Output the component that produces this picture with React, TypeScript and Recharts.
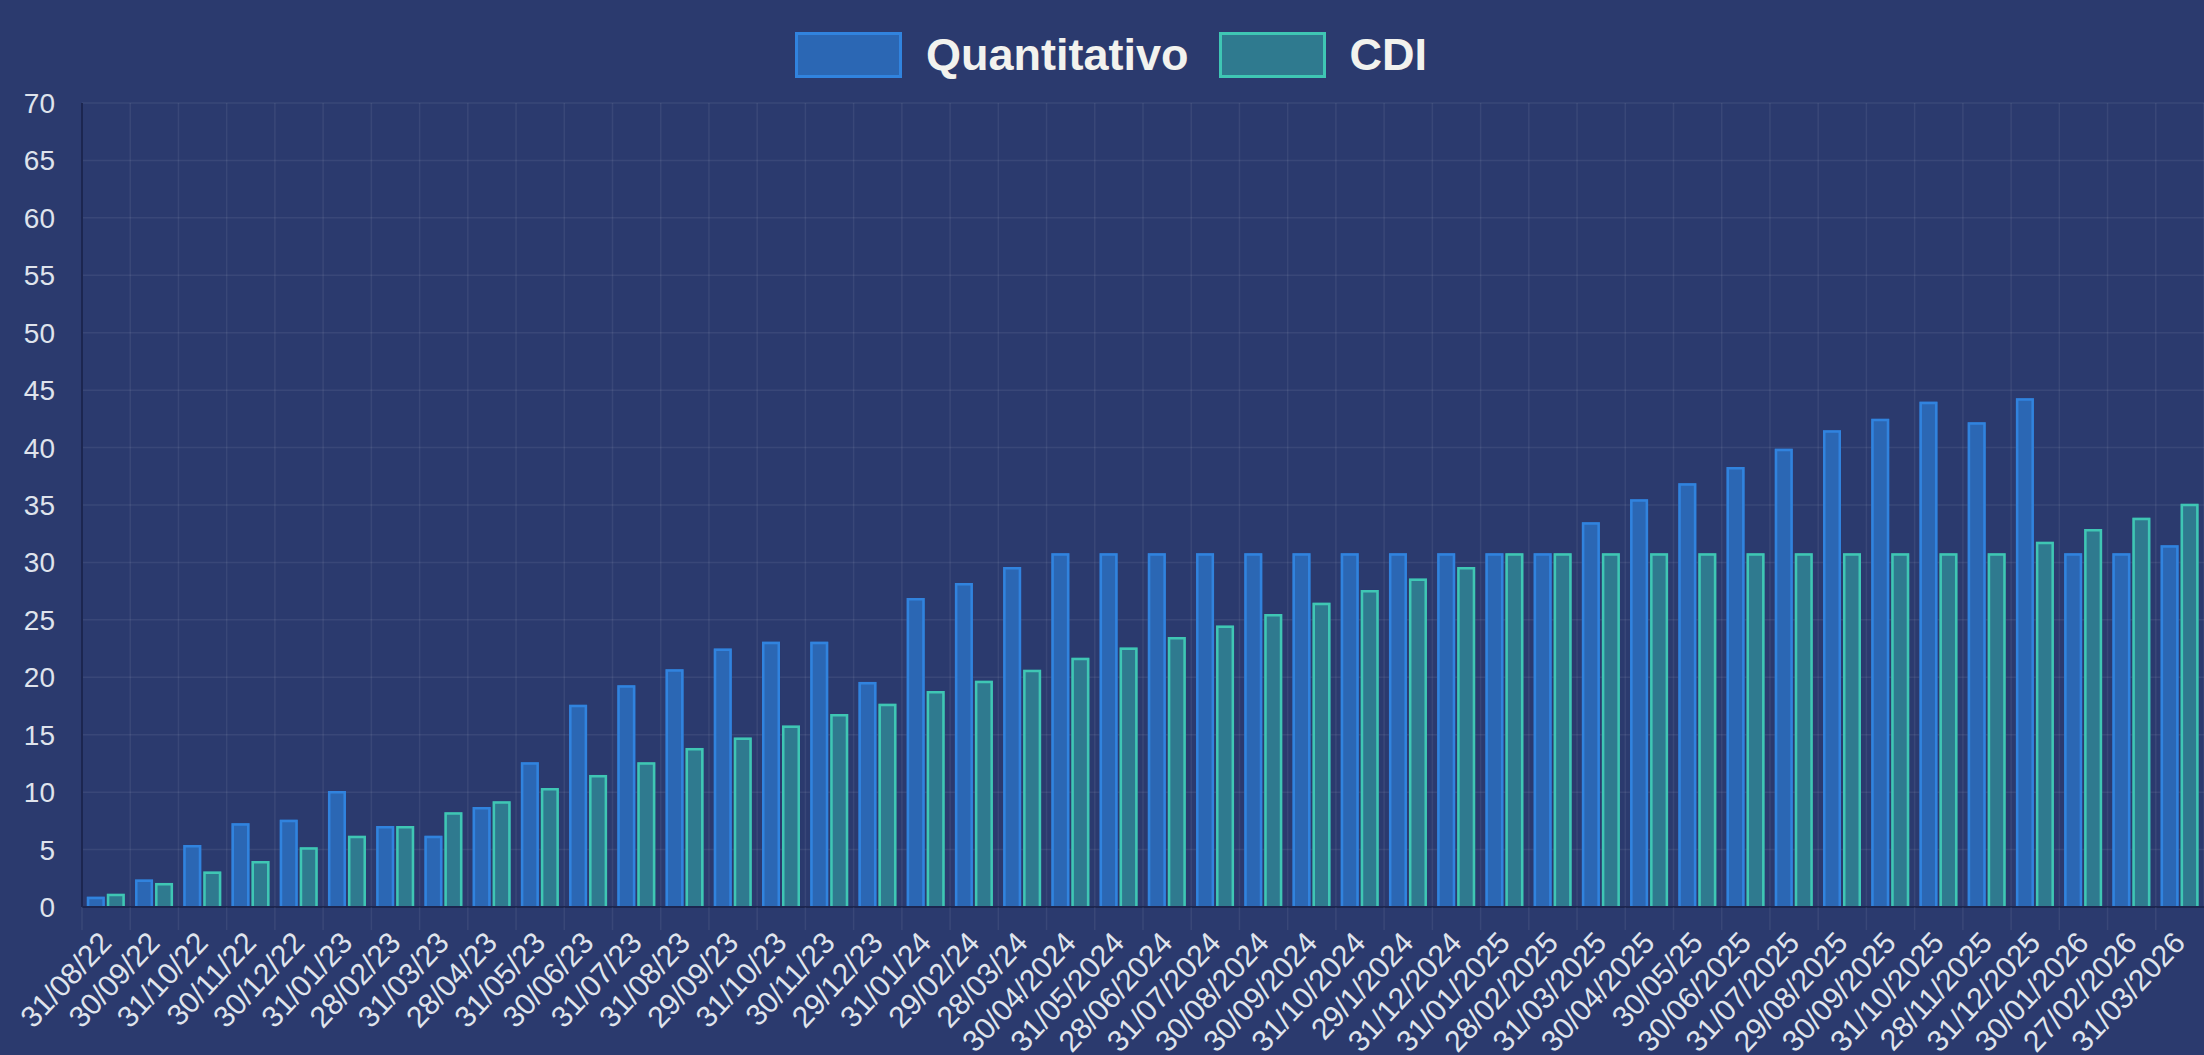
import { BarChart, Bar, XAxis, YAxis, CartesianGrid, Legend } from "recharts";

const W = 2204;
const H = 1055;

// month-end dates as shown on the x axis
const dates = [
  "31/08/22", "30/09/22", "31/10/22", "30/11/22", "30/12/22",
  "31/01/23", "28/02/23", "31/03/23", "28/04/23", "31/05/23", "30/06/23",
  "31/07/23", "31/08/23", "29/09/23", "31/10/23", "30/11/23", "29/12/23",
  "31/01/24", "29/02/24", "28/03/24", "30/04/2024", "31/05/2024", "28/06/2024",
  "31/07/2024", "30/08/2024", "30/09/2024", "31/10/2024", "29/1/2024", "31/12/2024",
  "31/01/2025", "28/02/2025", "31/03/2025", "30/04/2025", "30/05/25", "30/06/2025",
  "31/07/2025", "29/08/2025", "30/09/2025", "31/10/2025", "28/11/2025", "31/12/2025",
  "30/01/2026", "27/02/2026", "31/03/2026",
];

const quantitativo = [
  0.9, 2.4, 5.4, 7.3, 7.6, 10.1, 7.05, 6.2, 8.7, 12.6, 17.6,
  19.3, 20.7, 22.5, 23.1, 23.1, 19.6, 26.9, 28.2, 29.6, 30.8, 30.8, 30.8,
  30.8, 30.8, 30.8, 30.8, 30.8, 30.8, 30.8, 30.8, 33.5, 35.5, 36.9, 38.3,
  39.9, 41.5, 42.5, 44.0, 42.2, 44.3, 30.8, 30.8, 31.5,
];

const cdi = [
  1.15, 2.1, 3.1, 4.0, 5.2, 6.2, 7.05, 8.25, 9.2, 10.35, 11.5,
  12.6, 13.85, 14.75, 15.8, 16.8, 17.7, 18.8, 19.7, 20.65, 21.7, 22.6, 23.5,
  24.5, 25.5, 26.5, 27.6, 28.6, 29.6, 30.8, 30.8, 30.8, 30.8, 30.8, 30.8,
  30.8, 30.8, 30.8, 30.8, 30.8, 31.8, 32.9, 33.9, 35.1,
];

const yTicks = [0, 5, 10, 15, 20, 25, 30, 35, 40, 45, 50, 55, 60, 65, 70];

const data = dates.map((d, i) => ({ date: d, q: quantitativo[i], cdi: cdi[i] }));

const BG = "#2b3a6e";
const GRID = "rgba(255,255,255,0.07)";
const AXIS = "#1c2650";
const TEXT = "#dfe3ec";
const FONT = "'Liberation Sans', Arial, Helvetica, sans-serif";

const Q_FILL = "#2b67b4";
const Q_LINE = "#3183de";
const C_FILL = "#2f7a8f";
const C_LINE = "#3fc6b4";

const margin = { top: 103, right: 0, bottom: 0, left: 0 };
const yAxisWidth = 82;
const xAxisHeight = H - 103 - 804;
const bandW = (W - yAxisWidth) / dates.length;

// chart.js style bar: fill plus an inset border on top, left and right
function bordered(fill: string, line: string) {
  return (props: any) => {
    const { x, y, width, height } = props;
    if (!height || height <= 0) return <g />;
    const b = 2.5;
    return (
      <g>
        <rect x={x} y={y} width={width} height={height} fill={fill} />
        <path
          d={`M${x + b / 2},${y + height} V${y + b / 2} H${x + width - b / 2} V${y + height}`}
          fill="none"
          stroke={line}
          strokeWidth={b}
        />
      </g>
    );
  };
}

function XTick(props: any) {
  const { x, y, payload } = props;
  const left = x - bandW / 2;
  const ax = x + 7;
  const ay = y + 37;
  return (
    <g>
      <line x1={left} x2={left} y1={y} y2={y + 23} stroke={GRID} strokeWidth={1.5} />
      <text
        x={ax}
        y={ay}
        textAnchor="end"
        fill={TEXT}
        fontSize={30}
        fontFamily={FONT}
        transform={`rotate(-47, ${ax}, ${ay})`}
      >
        {payload.value}
      </text>
    </g>
  );
}

function LegendBox() {
  const item = (fill: string, line: string, label: string) => (
    <div style={{ display: "flex", alignItems: "center" }}>
      <div
        style={{
          width: 107,
          height: 46,
          boxSizing: "border-box",
          background: fill,
          border: `3px solid ${line}`,
          marginRight: 24,
        }}
      />
      <span style={{ color: "#f2f2ee", fontSize: 45, fontWeight: 700, fontFamily: FONT }}>{label}</span>
    </div>
  );
  return (
    <div style={{ display: "flex", justifyContent: "center", gap: 30, paddingLeft: 18 }}>
      {item(Q_FILL, Q_LINE, "Quantitativo")}
      {item(C_FILL, C_LINE, "CDI")}
    </div>
  );
}

export default function App() {
  return (
    <div style={{ position: "absolute", left: 0, top: 0, width: W, height: H, background: BG, overflow: "hidden" }}>
      <BarChart
        width={W}
        height={H}
        data={data}
        margin={margin}
        barCategoryGap="10%"
        barGap={2}
      >
        <CartesianGrid
          stroke={GRID}
          strokeWidth={1.5}
          verticalCoordinatesGenerator={({ offset }: any) =>
            dates.map((_, i) => offset.left + i * ((offset.width as number) / dates.length)).concat([offset.left + offset.width])
          }
        />
        <XAxis
          dataKey="date"
          interval={0}
          height={xAxisHeight}
          tickSize={0}
          tickMargin={0}
          axisLine={{ stroke: AXIS, strokeWidth: 2 }}
          tickLine={false}
          tick={<XTick />}
        />
        <YAxis
          domain={[0, 70]}
          ticks={yTicks}
          width={yAxisWidth}
          tickSize={6}
          tickMargin={21}
          tickLine={false}
          axisLine={{ stroke: AXIS, strokeWidth: 2 }}
          tick={{ fill: TEXT, fontSize: 28, fontFamily: FONT }}
          interval={0}
        />
        <Legend
          layout="horizontal"
          verticalAlign="middle"
          align="center"
          content={<LegendBox />}
          wrapperStyle={{ top: 29, left: 0, width: W, height: 50 }}
        />
        <Bar dataKey="q" name="Quantitativo" isAnimationActive={false} shape={bordered(Q_FILL, Q_LINE)} />
        <Bar dataKey="cdi" name="CDI" isAnimationActive={false} shape={bordered(C_FILL, C_LINE)} />
      </BarChart>
    </div>
  );
}
